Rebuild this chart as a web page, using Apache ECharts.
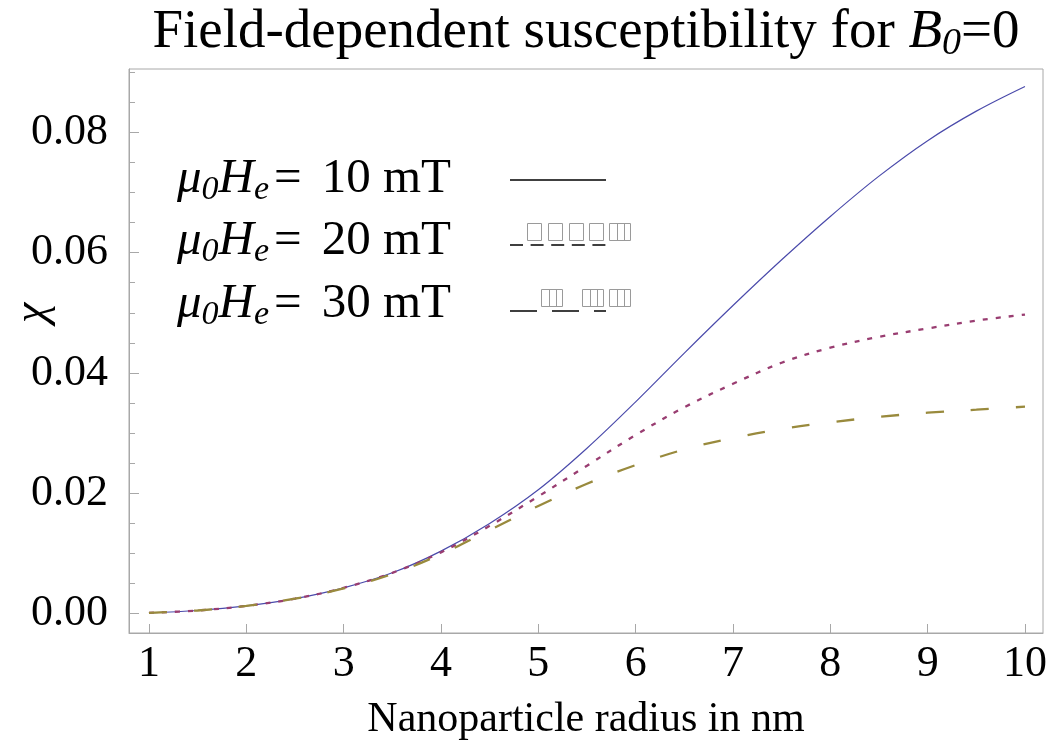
<!DOCTYPE html>
<html>
<head>
<meta charset="utf-8">
<script src="https://cdn.jsdelivr.net/npm/echarts@6/dist/echarts.min.js"></script>
<style>html,body{margin:0;padding:0;background:#fff}#c{width:1050px;height:752px}</style>
</head>
<body>
<div id="c"></div>
<script>
// Nanoparticle radius (nm)
const radius = [1, 1.5, 2, 2.5, 3, 3.5, 4, 4.5, 5, 5.5, 6, 6.5, 7, 7.5, 8, 8.5, 9, 9.5, 10];
// chi for mu0He = 10 mT (solid)
const chi10 = [0.00016, 0.00054, 0.0013, 0.0025, 0.0043, 0.0068, 0.0104, 0.0150, 0.0206, 0.0275, 0.0352, 0.0433, 0.0512, 0.0588, 0.0660, 0.0727, 0.0786, 0.0835, 0.0876];
// chi for mu0He = 20 mT (dotted)
const chi20 = [0.00016, 0.00054, 0.0013, 0.0025, 0.0043, 0.0068, 0.0102, 0.0146, 0.0195, 0.0246, 0.0297, 0.0343, 0.0382, 0.0417, 0.0442, 0.0460, 0.0474, 0.0487, 0.0497];
// chi for mu0He = 30 mT (dashed)
const chi30 = [0.00016, 0.00054, 0.0013, 0.0025, 0.0042, 0.0066, 0.0099, 0.0139, 0.0179, 0.0216, 0.0247, 0.0273, 0.0292, 0.0307, 0.0318, 0.0327, 0.0334, 0.0339, 0.0344];
// tick labels
const xTicks = [1, 2, 3, 4, 5, 6, 7, 8, 9, 10];
const yTicks = [0, 0.02, 0.04, 0.06, 0.08];
const yMinorTicks = [0.005, 0.01, 0.015, 0.025, 0.03, 0.035, 0.045, 0.05, 0.055, 0.065, 0.07, 0.075, 0.085, 0.09];
const fieldLabels = ['10', '20', '30'];

const FONT = 'Liberation Serif';
const FRAME = '#a8a8a8';
const pair = (ys) => radius.map((r, i) => [r, ys[i]]);

const chart = echarts.init(document.getElementById('c'), null, {renderer: 'canvas'});

function legendText(v) {
  return '{i|\u03bc}{s|0}{i|H}{se|e}{eq|=}{n|' + v + ' mT}';
}
const legendRich = {
  i: {fontFamily: FONT, fontStyle: 'italic', fontSize: 49, lineHeight: 56, color: '#000'},
  eq: {fontFamily: FONT, fontSize: 49, lineHeight: 56, color: '#000', padding: [0, 20, 0, 5]},
  n: {fontFamily: FONT, fontSize: 49, lineHeight: 56, color: '#000'},
  s: {fontFamily: FONT, fontStyle: 'italic', fontSize: 34, lineHeight: 36, color: '#000', verticalAlign: 'bottom'},
  se: {fontFamily: FONT, fontStyle: 'italic', fontSize: 34, lineHeight: 36, color: '#000', verticalAlign: 'bottom'}
};
const rowY = [179, 241, 304];

const graphics = [];
fieldLabels.forEach((v, k) => {
  graphics.push({type: 'text', x: 177, y: rowY[k], style: {text: legendText(v), rich: legendRich, align: 'left', verticalAlign: 'middle'}});
});
// legend samples
graphics.push({type: 'line', shape: {x1: 510, y1: 180, x2: 606, y2: 180}, style: {stroke: '#000', lineWidth: 1.5}});
graphics.push({type: 'line', shape: {x1: 510, y1: 245, x2: 606, y2: 245}, style: {stroke: '#000', lineWidth: 1.5, lineDash: [13, 7.6]}});
graphics.push({type: 'line', shape: {x1: 510, y1: 311, x2: 606, y2: 311}, style: {stroke: '#000', lineWidth: 1.5, lineDash: [27, 15]}});
// missing-glyph boxes drawn in the legend samples
function box(x, y, w, h, cells) {
  graphics.push({type: 'rect', shape: {x: x, y: y, width: w, height: h}, style: {fill: null, stroke: '#9a9a9a', lineWidth: 1}});
  for (let c = 1; c < cells; c++) {
    const xx = Math.round(x + w * c / cells) + 0.5;
    graphics.push({type: 'line', shape: {x1: xx, y1: y, x2: xx, y2: y + h}, style: {stroke: '#9a9a9a', lineWidth: 1}});
  }
}
[527.5, 548.5, 569.5, 589.5].forEach(x => box(x, 223.5, 14, 17, 1));
box(609.5, 223.5, 21, 17, 3);
[541.5, 582.5, 609.5].forEach(x => box(x, 289.5, 21, 17, 3));
// y axis name
graphics.push({type: 'text', x: 33, y: 313, rotation: Math.PI / 2, style: {text: '\u03c7', fontFamily: FONT, fontStyle: 'italic', fontSize: 46, fill: '#000', align: 'center', verticalAlign: 'middle'}});

const option = {
  backgroundColor: '#fff',
  animation: false,
  title: {
    text: 'Field-dependent susceptibility for {i|B}{s|0}{n|=0}',
    left: 586, top: 3, padding: 0, textAlign: 'center',
    textStyle: {
      fontFamily: FONT, fontSize: 55, fontWeight: 'normal', color: '#000', lineHeight: 60,
      rich: {
        i: {fontFamily: FONT, fontStyle: 'italic', fontSize: 55, lineHeight: 60, color: '#000'},
        n: {fontFamily: FONT, fontSize: 55, lineHeight: 60, color: '#000'},
        s: {fontFamily: FONT, fontStyle: 'italic', fontSize: 38, lineHeight: 38, color: '#000', verticalAlign: 'bottom'}
      }
    }
  },
  grid: {left: 129, right: 7, top: 69, bottom: 119, show: true, borderColor: FRAME, borderWidth: 1, backgroundColor: 'transparent'},
  xAxis: {
    type: 'value', min: 0.795, max: 10.185,
    name: 'Nanoparticle radius in nm', nameLocation: 'middle', nameGap: 66,
    nameTextStyle: {fontFamily: FONT, fontSize: 42, color: '#000'},
    axisLine: {show: true, onZero: false, lineStyle: {color: FRAME, width: 1}},
    axisTick: {show: true, inside: true, length: 9, customValues: xTicks, lineStyle: {color: FRAME, width: 1}},
    axisLabel: {customValues: xTicks, fontFamily: FONT, fontSize: 44, color: '#000', margin: 9},
    splitLine: {show: false}
  },
  yAxis: [{
    type: 'value', min: -0.0032, max: 0.0905,
    axisLine: {show: true, onZero: false, lineStyle: {color: FRAME, width: 1}},
    axisTick: {show: true, inside: true, length: 10, customValues: yTicks, lineStyle: {color: FRAME, width: 1}},
    axisLabel: {customValues: yTicks, fontFamily: FONT, fontSize: 44, color: '#000', margin: 21, formatter: v => v.toFixed(2)},
    splitLine: {show: false}
  }, {
    type: 'value', min: -0.0032, max: 0.0905, position: 'left', offset: 0,
    axisLine: {show: false, onZero: false},
    axisTick: {show: true, inside: true, length: 6, customValues: yMinorTicks, lineStyle: {color: FRAME, width: 1}},
    axisLabel: {show: false},
    splitLine: {show: false}
  }],
  series: [
    {name: '\u03bc0He = 10 mT', type: 'line', data: pair(chi10), showSymbol: false, smooth: 0.35, lineStyle: {color: '#4b4bab', width: 1.2}, itemStyle: {color: '#4b4bab'}},
    {name: '\u03bc0He = 20 mT', type: 'line', data: pair(chi20), showSymbol: false, smooth: 0.35, lineStyle: {color: '#993d71', width: 2.3, type: [5, 8]}, itemStyle: {color: '#993d71'}},
    {name: '\u03bc0He = 30 mT', type: 'line', data: pair(chi30), showSymbol: false, smooth: 0.35, lineStyle: {color: '#998a3d', width: 2.3, type: [18, 27]}, itemStyle: {color: '#998a3d'}}
  ],
  graphic: graphics
};
chart.setOption(option);
</script>
</body>
</html>
